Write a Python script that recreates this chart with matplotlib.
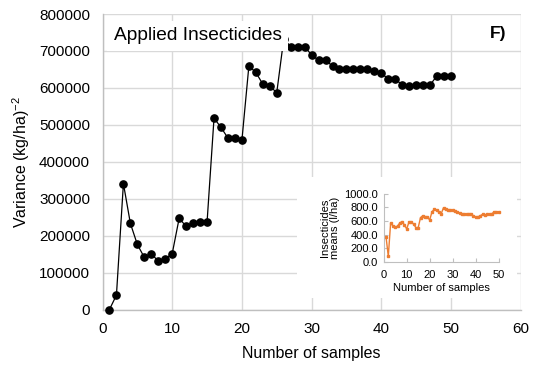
import matplotlib
matplotlib.use("Agg")
import matplotlib.pyplot as plt

plt.rcParams['font.family'] = ['Liberation Sans', 'DejaVu Sans']
plt.rcParams['mathtext.fontset'] = 'custom'
plt.rcParams['mathtext.rm'] = 'Liberation Sans'
plt.rcParams['mathtext.it'] = 'Liberation Sans'

# Main series: variance vs number of samples
samples = list(range(1, 51))
variance = [0, 39000, 341000, 233000, 176000, 141000, 151000, 131000, 137000, 151000,
            247000, 225000, 233000, 236000, 236000, 518000, 493000, 464000, 464000, 458000,
            659000, 642000, 610000, 605000, 587000, 732000, 712000, 712000, 712000, 689000,
            675000, 675000, 659000, 651000, 651000, 651000, 651000, 651000, 646000, 640000,
            624000, 624000, 608000, 605000, 608000, 608000, 608000, 633000, 633000, 633000]

# Inset series: insecticide means
means = [372, 82, 565, 530, 505, 525, 570, 590, 541, 483,
         585, 589, 551, 502, 502, 647, 676, 662, 657, 613,
         734, 768, 763, 725, 705, 792, 768, 763, 763, 753,
         744, 729, 715, 700, 700, 700, 700, 696, 676, 657,
         657, 676, 696, 686, 696, 696, 700, 734, 734, 734]

main_xticks = [0, 10, 20, 30, 40, 50, 60]
main_yticks = [0, 100000, 200000, 300000, 400000, 500000, 600000, 700000, 800000]
inset_xticks = [0, 10, 20, 30, 40, 50]
inset_yticks = [0, 200, 400, 600, 800, 1000]

W, H = 535, 366
fig = plt.figure(figsize=(W / 100, H / 100), dpi=100)

def rect(l, r, t, b):
    return [l / W, 1 - b / H, (r - l) / W, (b - t) / H]

ax = fig.add_axes(rect(102.5, 520.7, 14, 309.5))
ax.set_xlim(0, 60)
ax.set_ylim(0, 800000)
ax.set_xticks(main_xticks)
ax.set_yticks(main_yticks)
ax.set_yticklabels([str(v) for v in main_yticks])
ax.grid(True, color='#d9d9d9', linewidth=1.0)
ax.set_axisbelow(True)
for s in ['top', 'right']:
    ax.spines[s].set_visible(False)
for s in ['left', 'bottom']:
    ax.spines[s].set_color('#bfbfbf')
    ax.spines[s].set_linewidth(1.0)
ax.tick_params(length=0, labelsize=11, colors='#000000')
ax.tick_params(axis='y', pad=9)
ax.tick_params(axis='x', pad=9)
ax.plot(samples, variance, color='black', linewidth=0.9, marker='o',
        markersize=5.2, clip_on=False, zorder=3)
ax.set_xlabel('Number of samples', fontsize=11.5, labelpad=7)
ax.set_ylabel('Variance (kg/ha)$^{-2}$', fontsize=11.5, labelpad=5)

ax.text(1.6, 741000, 'Applied Insecticides', fontsize=13.8, ha='left', va='center',
        zorder=5, bbox=dict(facecolor='white', edgecolor='none', pad=4.5))
ax.text(58.0, 748000, 'F)', fontsize=12.5, fontweight='bold', ha='right', va='center')

# white background behind inset
bg = fig.add_axes(rect(297, 517, 177, 298))
bg.set_xticks([])
bg.set_yticks([])
for s in bg.spines.values():
    s.set_visible(False)
bg.set_facecolor('white')

ins = fig.add_axes(rect(383.7, 498.7, 193.5, 262))
ins.set_xlim(0, 50)
ins.set_ylim(0, 1000)
ins.set_xticks(inset_xticks)
ins.set_yticks(inset_yticks)
ins.set_yticklabels(['%.1f' % v for v in inset_yticks])
ins.plot(samples, means, color='#ED7D31', linewidth=1.0, marker='s',
         markersize=1.8, clip_on=False)
for s in ['top', 'right']:
    ins.spines[s].set_visible(False)
for s in ['left', 'bottom']:
    ins.spines[s].set_color('#bfbfbf')
    ins.spines[s].set_linewidth(0.8)
ins.tick_params(direction='in', length=3, color='#bfbfbf', labelsize=8)
ins.tick_params(axis='x', pad=6)
ins.tick_params(axis='y', pad=4)
ins.set_xlabel('Number of samples', fontsize=8, labelpad=2)
ins.set_ylabel('Insecticides\nmeans (l/ha)', fontsize=8, labelpad=3, linespacing=1.0)

fig.savefig('out.png', dpi=100)
